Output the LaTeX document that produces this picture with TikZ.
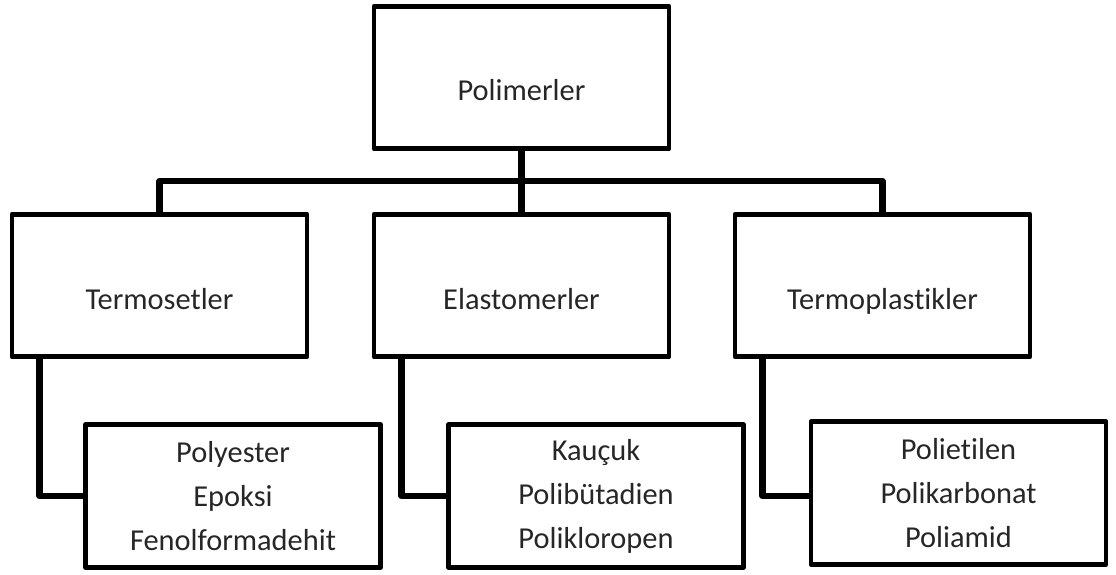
\documentclass[tikz,border=0pt]{standalone}
\usepackage{fontspec}
\setmainfont{Carlito}[Ligatures=NoCommon]
\usetikzlibrary{positioning}

\begin{document}
\begin{tikzpicture}[
  kutu/.style={rectangle, draw=black, line width=2.8pt, line join=round,
    minimum width=5.9cm, minimum height=2.85cm, text=black!85,
    font=\fontsize{17.3}{25}\selectfont},
  ustkutu/.style={kutu, text height=0.94cm, text depth=0pt},
  altkutu/.style={kutu, align=center},
  baglanti/.style={draw=black, line width=3.7pt, line join=round}
]
\useasboundingbox (0,0) rectangle (22.32,11.48);

\node[ustkutu] (1) at (10.43,9.93) {Polimerler};

\node[ustkutu] (2) at (3.19,5.77) {Termosetler};
\node[ustkutu] (3) at (10.43,5.77) {Elastomerler};
\node[ustkutu] (4) at (17.65,5.77) {Termoplastikler};

\node[altkutu] (5) at (4.66,1.56) {Polyester\\Epoksi\\Fenolformadehit};
\node[altkutu] (6) at (11.92,1.56) {Kauçuk\\Polibütadien\\Polikloropen};
\node[altkutu] (7) at (19.17,1.62) {Polietilen\\Polikarbonat\\Poliamid};

% ana dallar
\draw[baglanti] (1.south) -- ++(0,-0.6) -| (2.north);
\draw[baglanti] (1.south) -- (3.north);
\draw[baglanti] (1.south) -- ++(0,-0.6) -| (4.north);

% alt kutular
\draw[baglanti] ([xshift=0.6cm]2.south west) |- (5.west);
\draw[baglanti] ([xshift=0.6cm]3.south west) |- (6.west);
\draw[baglanti] ([xshift=0.6cm]4.south west) |- ([yshift=-0.06cm]7.west);
\end{tikzpicture}
\end{document}
